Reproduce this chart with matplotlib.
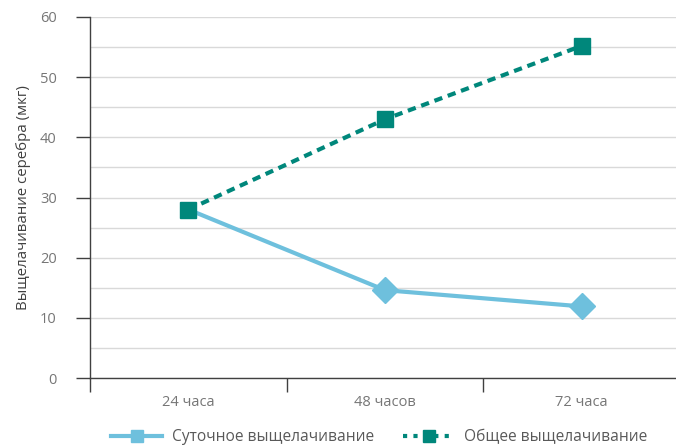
import numpy as np
import matplotlib.pyplot as plt
from matplotlib.ticker import MultipleLocator, FixedLocator

plt.rcParams['font.family'] = ['Open Sans', 'DejaVu Sans']

categories = ['24 часа', '48 часов', '72 часа']
daily = [28.0, 14.6, 11.9]
total = [28.0, 43.0, 55.2]

blue = '#6EC0DD'
teal = '#00877B'
grey_text = '#595959'
tick_text = '#767676'
dash = (0, (2.0, 1.4))

fig = plt.figure(figsize=(6.76, 4.45), dpi=100)
ax = fig.add_axes([90 / 676, 1 - 378 / 445, 590 / 676, 361 / 445])

x = np.arange(len(categories))
# first diamond sits under the teal square in the original
ax.plot(x, daily, color=blue, lw=3, marker='D', ms=13, markevery=[1, 2],
        label='Суточное выщелачивание', zorder=3)
ax.plot(x, total, color=teal, lw=3, ls=dash, marker='s', ms=11.5,
        label='Общее выщелачивание', zorder=4)

ax.set_xlim(-0.5, 2.5)
ax.set_ylim(0, 60)

ax.yaxis.set_major_locator(MultipleLocator(10))
ax.yaxis.set_minor_locator(MultipleLocator(5))
ax.grid(axis='y', which='both', color='#D9D9D9', lw=1, zorder=0)
ax.tick_params(axis='y', which='major', direction='out', length=10, width=1, color='#404040',
               labelsize=10.5, labelcolor=tick_text, pad=14)
ax.tick_params(axis='y', which='minor', length=0)

ax.xaxis.set_major_locator(FixedLocator([-0.5, 0.5, 1.5, 2.5]))
ax.xaxis.set_minor_locator(FixedLocator(x))
ax.xaxis.set_major_formatter(plt.NullFormatter())
ax.xaxis.set_minor_formatter(plt.FixedFormatter(categories))
ax.tick_params(axis='x', which='major', direction='out', length=10, width=1, color='#404040')
ax.tick_params(axis='x', which='minor', length=0, labelsize=10.5, labelcolor=tick_text, pad=12)

for s in ['top', 'right']:
    ax.spines[s].set_visible(False)
for s in ['left', 'bottom']:
    ax.spines[s].set_color('#404040')
    ax.spines[s].set_linewidth(1)

ax.set_ylabel('Выщелачивание серебра (мкг)', fontsize=10.8, color='#404040', labelpad=6)

h1 = plt.Line2D([], [], color=blue, lw=3, marker='s', ms=9)
h2 = plt.Line2D([], [], color=teal, lw=3, ls=(0, (1.0, 1.5)), marker='s', ms=9)
fig.legend([h1, h2], ['Суточное выщелачивание', 'Общее выщелачивание'],
           loc='center', bbox_to_anchor=(379 / 676, 1 - 437 / 445), ncol=2, frameon=False,
           fontsize=11.2, labelcolor=grey_text, handlelength=3.3, columnspacing=1.9,
           handletextpad=0.6)

fig.savefig('out.png', dpi=100)
